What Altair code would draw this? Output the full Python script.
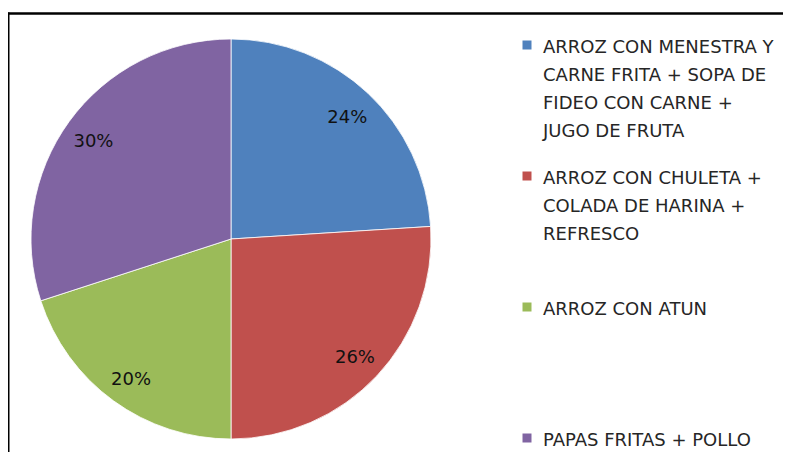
import altair as alt
import pandas as pd

categories = [
    "ARROZ CON MENESTRA Y CARNE FRITA + SOPA DE FIDEO CON CARNE + JUGO DE FRUTA",
    "ARROZ CON CHULETA + COLADA DE HARINA + REFRESCO",
    "ARROZ CON ATUN",
    "PAPAS FRITAS + POLLO",
]
legend_lines = [
    "ARROZ CON MENESTRA Y|CARNE FRITA + SOPA DE|FIDEO CON CARNE  +|JUGO DE FRUTA",
    "ARROZ CON CHULETA +|COLADA DE HARINA +|REFRESCO",
    "ARROZ CON ATUN",
    "PAPAS FRITAS + POLLO",
]
values = [24, 26, 20, 30]
colors = ["#4F81BD", "#C0504D", "#9BBB59", "#8064A2"]

df = pd.DataFrame({
    "categoria": categories,
    "leyenda": legend_lines,
    "valor": values,
    "orden": list(range(len(categories))),
})
df["etiqueta"] = [f"{v}%" for v in values]

color = alt.Color("categoria:N", scale=alt.Scale(domain=categories, range=colors), legend=None)

CX, CY = 223, 231

base = alt.Chart(df)

pie = base.mark_arc(radius=200, stroke="white", strokeWidth=0.8).encode(
    theta=alt.Theta("valor:Q", stack=True),
    color=color,
    order=alt.Order("orden:Q"),
    x=alt.value(CX),
    y=alt.value(CY),
)

labels = base.mark_text(radius=170, fontSize=18, font="DejaVu Sans", color="#111111", dy=3).encode(
    theta=alt.Theta("valor:Q", stack=True),
    order=alt.Order("orden:Q"),
    text="etiqueta:N",
    x=alt.value(CX),
    y=alt.value(CY),
)

yleg = alt.Y("categoria:N", scale=alt.Scale(domain=categories, range=[37, 430], padding=0, type="point"), axis=None)

squares = base.mark_square(size=81, opacity=1).encode(
    y=yleg,
    x=alt.value(519),
    color=color,
)

legtext = base.transform_calculate(
    lineas="split(datum.leyenda, '|')"
).mark_text(
    align="left", baseline="alphabetic", fontSize=18, font="DejaVu Sans",
    lineHeight=28, dy=8, color="#262626"
).encode(
    y=yleg,
    x=alt.value(535),
    text="lineas:N",
)

frame_df = pd.DataFrame({"a": [0]})
top_line = alt.Chart(frame_df).mark_rule(color="black", strokeWidth=2.5, strokeCap="butt").encode(
    x=alt.value(0), x2=alt.value(780), y=alt.value(5.5)
)
left_line = alt.Chart(frame_df).mark_rule(color="black", strokeWidth=2, strokeCap="butt").encode(
    x=alt.value(0.5), y=alt.value(4.5), y2=alt.value(450)
)

chart = alt.layer(pie, labels, squares, legtext, top_line, left_line).resolve_scale(
    y="independent"
).properties(
    width=775, height=444, padding=0, autosize=alt.AutoSizeParams(type="none")
).configure_view(stroke=None)

chart.save("out.html", embed_options={"renderer": "svg", "actions": False})
